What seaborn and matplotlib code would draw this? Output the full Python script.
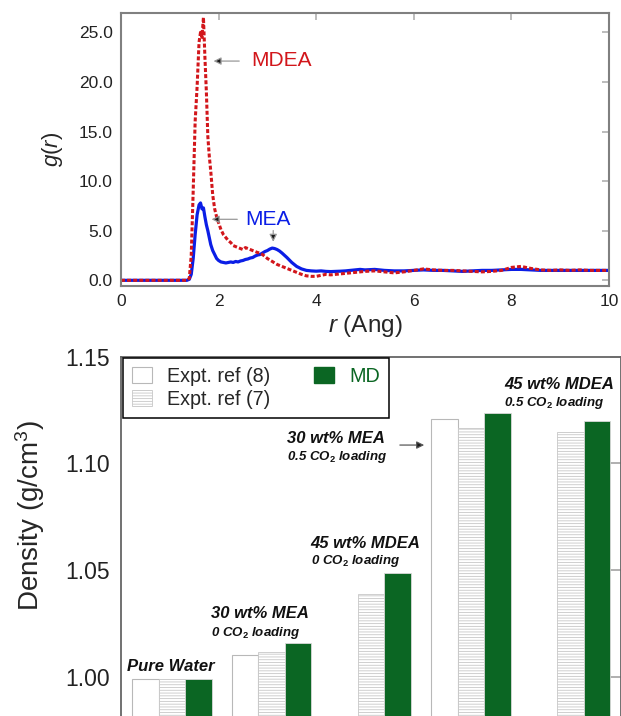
import numpy as np
import pandas as pd
import matplotlib
matplotlib.use("Agg")
import matplotlib.pyplot as plt
import matplotlib.patches as mpatches
from matplotlib.ticker import FormatStrFormatter
import seaborn as sns

# --- g(r) data ---
r_vals = [0.0, 0.5, 1.0, 1.35, 1.40, 1.44, 1.48, 1.52, 1.56, 1.60, 1.63, 1.66,
          1.69, 1.72, 1.75, 1.78, 1.81, 1.84, 1.88, 1.92, 1.96, 2.00, 2.05,
          2.10, 2.15, 2.20, 2.25, 2.30, 2.35, 2.40, 2.45, 2.50, 2.55, 2.60,
          2.65, 2.70, 2.75, 2.80, 2.85, 2.90, 2.95, 3.00, 3.05, 3.10, 3.15,
          3.20, 3.25, 3.30, 3.40, 3.50, 3.60, 3.70, 3.80, 3.90, 4.00, 4.10,
          4.20, 4.30, 4.40, 4.50, 4.60, 4.70, 4.80, 4.90, 5.00, 5.20, 5.40,
          5.60, 5.80, 6.00, 6.20, 6.40, 6.60, 6.80, 7.00, 7.20, 7.40, 7.60,
          7.80, 8.00, 8.20, 8.40, 8.60, 8.80, 9.00, 9.20, 9.40, 9.60, 9.80, 10.0]

g_mea = [0.0, 0.0, 0.0, 0.0, 0.1, 0.6, 2.2, 4.6, 6.6, 7.6, 7.8, 7.2,
         7.3, 6.4, 5.6, 5.0, 4.3, 3.6, 3.0, 2.6, 2.2, 2.0, 1.85,
         1.8, 1.75, 1.8, 1.85, 1.8, 1.9, 1.85, 1.95, 2.0, 2.1, 2.15,
         2.25, 2.3, 2.45, 2.55, 2.6, 2.75, 2.9, 3.0, 3.15, 3.25, 3.2,
         3.1, 2.95, 2.75, 2.3, 1.8, 1.4, 1.15, 1.0, 0.95, 0.92, 0.95,
         0.9, 0.88, 0.9, 0.92, 0.95, 1.0, 1.05, 1.1, 1.05, 1.1, 1.0,
         0.95, 0.95, 1.0, 1.05, 1.0, 1.0, 0.95, 0.9, 0.95, 1.0, 1.0,
         1.05, 1.1, 1.1, 1.05, 1.0, 1.0, 1.0, 1.0, 1.0, 1.0, 1.0, 1.0]

g_mdea = [0.0, 0.0, 0.0, 0.0, 0.2, 2.5, 9.0, 16.0, 19.5, 24.0, 25.0, 24.5,
          26.5, 22.5, 19.0, 14.5, 12.5, 11.0, 8.6, 7.2, 6.4, 5.8, 5.1,
          4.6, 4.3, 4.0, 3.8, 3.5, 3.4, 3.3, 3.2, 3.1, 3.3, 3.2,
          3.1, 3.0, 2.9, 2.8, 2.75, 2.6, 2.4, 2.2, 2.05, 1.9, 1.75,
          1.6, 1.5, 1.4, 1.2, 1.0, 0.8, 0.6, 0.45, 0.4, 0.4, 0.5,
          0.6, 0.55, 0.6, 0.65, 0.7, 0.75, 0.8, 0.85, 0.9, 0.95, 0.85,
          0.75, 0.85, 1.0, 1.15, 1.05, 1.0, 1.0, 0.95, 0.9, 0.85, 0.9,
          1.0, 1.3, 1.4, 1.2, 1.05, 1.0, 1.05, 1.0, 1.05, 1.0, 1.0, 1.0]

# --- density data ---
systems = ["Pure Water", "30 wt% MEA 0", "45 wt% MDEA 0", "30 wt% MEA 0.5", "45 wt% MDEA 0.5"]
dens_ref8 = [0.999, 1.010, np.nan, 1.121, np.nan]
dens_ref7 = [0.999, 1.0115, 1.039, 1.1165, 1.1148]
dens_md = [0.999, 1.0157, 1.0485, 1.1235, 1.1198]
sources = ["Expt. ref (8)", "Expt. ref (7)", "MD"]

red = "#d2161b"
blue = "#0b1ee6"
green = "#0b6623"

sns.set_theme(style="white")
plt.rcParams["font.family"] = ["Liberation Sans", "DejaVu Sans"]
plt.rcParams["mathtext.fontset"] = "custom"
plt.rcParams["mathtext.rm"] = "Liberation Sans"
plt.rcParams["mathtext.it"] = "Liberation Sans:italic"
plt.rcParams["mathtext.bf"] = "Liberation Sans:bold"
plt.rcParams["hatch.linewidth"] = 0.6

fig = plt.figure(figsize=(6.21, 7.16), dpi=100)

# ---------------- top: g(r) ----------------
ax1 = fig.add_axes([0.1948, 0.6006, 0.7858, 0.3813])
sns.lineplot(x=r_vals, y=g_mea, ax=ax1, color=blue, lw=2.3)
sns.lineplot(x=r_vals, y=g_mdea, ax=ax1, color=red, lw=2.2, linestyle=(0, (1.3, 0.7)))
ax1.set_xlim(0, 10)
ax1.set_ylim(-0.57, 26.95)
ax1.set_yticks([0, 5, 10, 15, 20, 25])
ax1.set_xticks([0, 2, 4, 6, 8, 10])
ax1.yaxis.set_major_formatter(FormatStrFormatter("%.1f"))
ax1.tick_params(direction="in", length=5, color="0.7", top=True, right=True,
                labelsize=12.5, pad=6, labelcolor="#222")
for s in ax1.spines.values():
    s.set_color("0.5")
    s.set_linewidth(1.5)
ax1.set_xlabel("$r$ (Ang)", fontsize=17.5, labelpad=3)
ax1.set_ylabel("$g$($r$)", fontsize=16, labelpad=10)

arrow_kw = dict(arrowstyle="-|>", ec="0.6", fc="k", lw=0.9, mutation_scale=11)
ax1.annotate("", xy=(1.84, 22.1), xytext=(2.48, 22.1), arrowprops=arrow_kw)
ax1.text(2.66, 22.2, "MDEA", color=red, fontsize=15, va="center")
ax1.annotate("", xy=(1.80, 6.15), xytext=(2.44, 6.15), arrowprops=arrow_kw)
ax1.text(2.54, 6.15, "MEA", color=blue, fontsize=15, va="center")
ax1.annotate("", xy=(3.12, 3.6), xytext=(3.12, 5.3), arrowprops=arrow_kw)

# ---------------- bottom: density bars ----------------
df = pd.DataFrame({
    "system": systems * 3,
    "source": [sources[0]] * 5 + [sources[1]] * 5 + [sources[2]] * 5,
    "density": dens_ref8 + dens_ref7 + dens_md,
})

ax2 = fig.add_axes([0.1948, -0.0943, 0.8052, 0.5961])
sns.barplot(data=df, x="system", y="density", hue="source", ax=ax2,
            palette=["white", "white", green], saturation=1, width=0.8)
ax2.get_legend().remove()

for p in ax2.containers[0]:
    p.set_edgecolor("0.72")
    p.set_linewidth(0.8)
for p in ax2.containers[1]:
    p.set_edgecolor("0.78")
    p.set_hatch("------")
    p.set_linewidth(0.6)
for p in ax2.containers[2]:
    p.set_edgecolor("0.85")
    p.set_linewidth(0.6)

ax2.set_xlim(-0.512, 4.508)
ax2.set_ylim(0.95, 1.15)
ax2.set_yticks([1.00, 1.05, 1.10, 1.15])
ax2.yaxis.set_major_formatter(FormatStrFormatter("%.2f"))
ax2.set_xticks([])
ax2.set_xlabel("")
ax2.tick_params(axis="y", direction="in", length=8, color="0.65", right=True,
                labelsize=16.5, pad=8, labelcolor="#222")
for s in ax2.spines.values():
    s.set_color("0.4")
    s.set_linewidth(1.3)
ax2.set_ylabel("Density (g/cm$^3$)", fontsize=20)
ax2.yaxis.set_label_coords(-0.148, 0.627)

handles = [
    mpatches.Patch(facecolor="white", edgecolor="0.72", lw=0.8, label=sources[0]),
    mpatches.Patch(facecolor="white", edgecolor="0.78", hatch="------", lw=0.6, label=sources[1]),
    mpatches.Patch(facecolor=green, edgecolor=green, label=sources[2]),
]
leg = ax2.legend(handles=handles, ncol=2, loc="upper left",
                 bbox_to_anchor=(123 / 621, 1 - 358 / 716), bbox_transform=fig.transFigure,
                 fontsize=14.2, frameon=True, fancybox=False, framealpha=1,
                 edgecolor="black", borderaxespad=0, borderpad=0.45,
                 handlelength=1.0, handleheight=0.9, handletextpad=0.8,
                 columnspacing=2.2, labelspacing=0.2)
leg.get_frame().set_linewidth(1.1)
leg.get_texts()[2].set_color(green)

big = dict(fontsize=12, fontweight="bold", fontstyle="italic", color="#111")
small = dict(fontsize=9.5, fontweight="bold", fontstyle="italic", color="#111")
ax2.text(-0.452, 1.0028, "Pure Water", **big)
ax2.text(0.389, 1.0274, "30 wt% MEA", **big)
ax2.text(0.389, 1.0191, r"0 CO$_\mathbf{2}$ loading", **small)
ax2.text(1.393, 1.0603, "45 wt% MDEA", **big)
ax2.text(1.393, 1.0528, r"0 CO$_\mathbf{2}$ loading", **small)
ax2.text(1.150, 1.1096, "30 wt% MEA", **big)
ax2.text(1.150, 1.1015, r"0.5 CO$_\mathbf{2}$ loading", **small)
ax2.text(3.333, 1.1350, "45 wt% MDEA", **big)
ax2.text(3.333, 1.1267, r"0.5 CO$_\mathbf{2}$ loading", **small)
ax2.annotate("", xy=(2.56, 1.1086), xytext=(2.26, 1.1086),
             arrowprops=dict(arrowstyle="-|>", ec="0.35", fc="k", lw=0.9, mutation_scale=11))

fig.savefig("out.png", dpi=100)
